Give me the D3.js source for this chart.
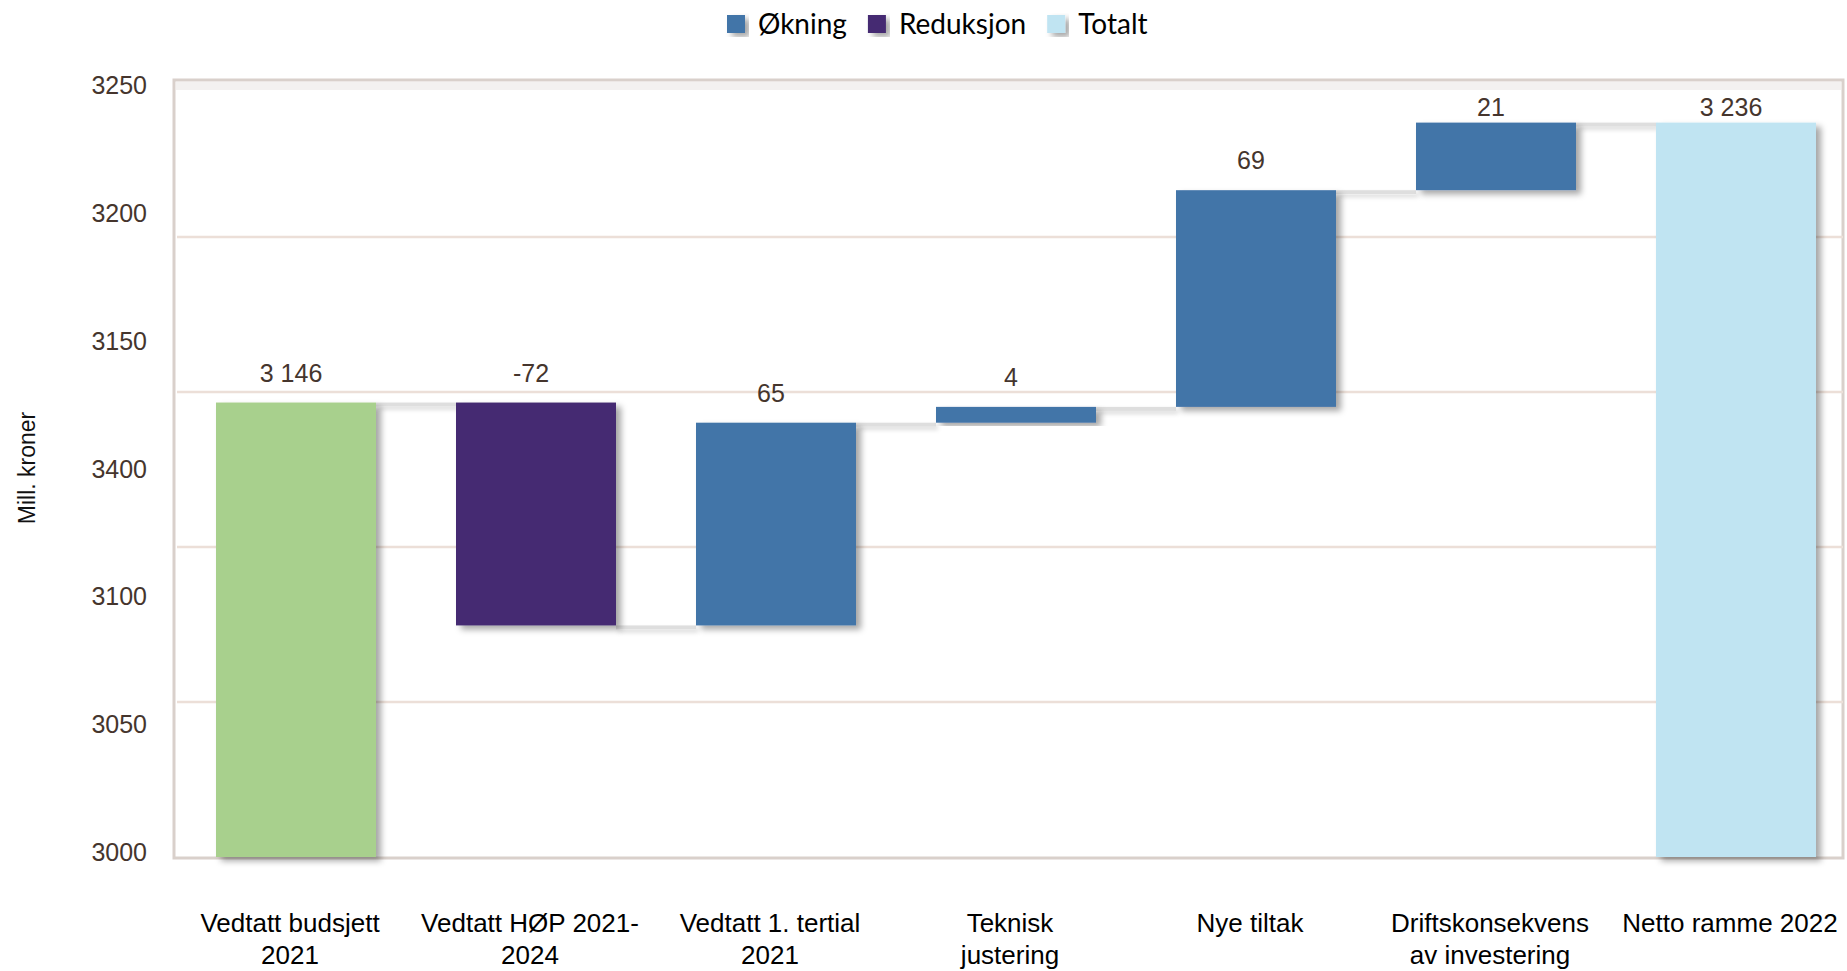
<!DOCTYPE html>
<html>
<head>
<meta charset="utf-8">
<script src="https://cdn.jsdelivr.net/npm/d3@7"></script>
<style>
  body { margin: 0; background: #fff; }
  svg { display: block; }
</style>
</head>
<body>
<script>
// data
var categories = [
    ["Vedtatt budsjett", "2021"],
    ["Vedtatt HØP 2021-", "2024"],
    ["Vedtatt 1. tertial", "2021"],
    ["Teknisk", "justering"],
    ["Nye tiltak"],
    ["Driftskonsekvens", "av investering"],
    ["Netto ramme 2022"]
];
// bar heights (the printed labels are rounded)
var startValue = 3146.6;
var changes = [-71.9, 65.4, 5.1, 69.9, 21.8];
var valueLabels = ["3 146", "-72", "65", "4", "69", "21", "3 236"];
var tickLabels = ["3250", "3200", "3150", "3400", "3100", "3050", "3000"];
var gridValues = [3050, 3100, 3150, 3200];
var legendItems = [
    {name: "Økning", color: "#4374a8"},
    {name: "Reduksjon", color: "#452a72"},
    {name: "Totalt", color: "#c0e4f2"}
];

var W = 1847, H = 971;
var plot = {left: 174, top: 80, right: 1843, bottom: 858};

// build the waterfall steps
var steps = [];
var run = startValue;
steps.push({i: 0, lo: 3000, hi: startValue, color: "#a8d08d", level: startValue});
changes.forEach(function(c, k) {
    var prev = run;
    run = run + c;
    steps.push({i: k + 1, lo: Math.min(prev, run), hi: Math.max(prev, run),
                color: c < 0 ? "#452a72" : "#4374a8", level: run});
});
steps.push({i: categories.length - 1, lo: 3000, hi: run, color: "#c0e4f2", level: run});
steps.forEach(function(s, k) { s.label = valueLabels[k]; });

var svg = d3.select("body").append("svg")
    .attr("width", W)
    .attr("height", H);

var defs = svg.append("defs");
defs.append("filter").attr("id", "shadow")
    .attr("x", "-10%").attr("y", "-10%").attr("width", "130%").attr("height", "130%")
    .append("feDropShadow")
    .attr("dx", 5).attr("dy", 4).attr("stdDeviation", 3)
    .attr("flood-color", "#000").attr("flood-opacity", 0.35);
defs.append("filter").attr("id", "softshadow")
    .attr("x", "-10%").attr("y", "-100%").attr("width", "120%").attr("height", "400%")
    .append("feDropShadow")
    .attr("dx", 2).attr("dy", 3).attr("stdDeviation", 2)
    .attr("flood-color", "#000").attr("flood-opacity", 0.15);

var x = d3.scaleBand()
    .domain(d3.range(categories.length))
    .range([176, 1856])
    .paddingInner(1 / 3)
    .paddingOuter(1 / 6);

var y = d3.scaleLinear()
    .domain([3000, 3250])
    .range([plot.bottom - 1, plot.top + 2]);

// the printed tick labels do not line up with the grid in the source
var yLabel = d3.scalePoint()
    .domain(tickLabels)
    .range([85, 852]);

// plot frame
svg.append("rect")
    .attr("x", plot.left).attr("y", plot.top)
    .attr("width", plot.right - plot.left)
    .attr("height", plot.bottom - plot.top)
    .attr("fill", "#fff")
    .attr("stroke", "#d9d0cb")
    .attr("stroke-width", 3);
svg.append("rect")
    .attr("x", plot.left + 2).attr("y", plot.top + 2)
    .attr("width", plot.right - plot.left - 4)
    .attr("height", 8)
    .attr("fill", "#f3f1f0");

svg.append("g")
    .selectAll("line")
    .data(gridValues)
    .enter()
    .append("line")
    .attr("x1", plot.left + 3).attr("x2", plot.right)
    .attr("y1", function(d) { return y(d); })
    .attr("y2", function(d) { return y(d); })
    .attr("stroke", "#ecdfd8")
    .attr("stroke-width", 2.5);

// connectors
svg.append("g")
    .selectAll("rect")
    .data(steps.slice(0, steps.length - 1))
    .enter()
    .append("rect")
    .attr("x", function(d) { return x(d.i) + x.bandwidth(); })
    .attr("y", function(d) { return y(d.level); })
    .attr("width", x.step() - x.bandwidth())
    .attr("height", 4)
    .attr("fill", "#dedede")
    .attr("filter", "url(#softshadow)");

// bars
svg.append("g")
    .selectAll("rect")
    .data(steps)
    .enter()
    .append("rect")
    .attr("x", function(d) { return x(d.i); })
    .attr("y", function(d) { return y(d.hi); })
    .attr("width", x.bandwidth())
    .attr("height", function(d) { return y(d.lo) - y(d.hi); })
    .attr("fill", function(d) { return d.color; })
    .attr("filter", "url(#shadow)");

// value labels
svg.append("g")
    .selectAll("text")
    .data(steps)
    .enter()
    .append("text")
    .attr("x", function(d) { return x(d.i) + x.bandwidth() / 2 - 5; })
    .attr("y", function(d) { return Math.max(y(d.hi) - 21, plot.top + 36); })
    .attr("text-anchor", "middle")
    .style("font-family", "'Liberation Sans', Arial, sans-serif")
    .style("font-size", "25px")
    .style("fill", "#45352d")
    .text(function(d) { return d.label; });

// y tick labels
svg.append("g")
    .selectAll("text")
    .data(tickLabels)
    .enter()
    .append("text")
    .attr("x", 147)
    .attr("y", function(d) { return yLabel(d); })
    .attr("dy", "0.36em")
    .attr("text-anchor", "end")
    .style("font-family", "'Liberation Sans', Arial, sans-serif")
    .style("font-size", "25px")
    .style("fill", "#45352d")
    .text(function(d) { return d; });

// y title
svg.append("text")
    .attr("transform", "translate(27,468) rotate(-90)")
    .attr("text-anchor", "middle")
    .attr("dy", "0.35em")
    .style("font-family", "'Liberation Sans', Arial, sans-serif")
    .style("font-size", "23px")
    .style("fill", "#111")
    .text("Mill. kroner");

// category labels
var cat = svg.append("g")
    .selectAll("text")
    .data(categories)
    .enter()
    .append("text")
    .attr("text-anchor", "middle")
    .style("font-family", "'Liberation Sans', Arial, sans-serif")
    .style("font-size", "26px")
    .style("fill", "#000");
cat.selectAll("tspan")
    .data(function(d, i) { return d.map(function(line) { return {line: line, i: i}; }); })
    .enter()
    .append("tspan")
    .attr("x", function(d) { return x(d.i) + x.bandwidth() / 2 - 6; })
    .attr("y", function(d, j) { return 932 + j * 32; })
    .text(function(d) { return d.line; });

// legend
var legend = svg.append("g").attr("transform", "translate(727,0)");
var lx = 0;
legendItems.forEach(function(item) {
    var g = legend.append("g").attr("transform", "translate(" + lx + ",0)");
    g.append("rect")
        .attr("x", 0).attr("y", 15)
        .attr("width", 18).attr("height", 18)
        .attr("fill", item.color)
        .attr("filter", "url(#shadow)");
    var t = g.append("text")
        .attr("x", 31).attr("y", 34)
        .style("font-family", "Lato, 'Open Sans', sans-serif")
        .style("font-size", "28px")
        .style("fill", "#000")
        .text(item.name);
    lx += 31 + t.node().getComputedTextLength() + 21;
});
</script>
</body>
</html>
